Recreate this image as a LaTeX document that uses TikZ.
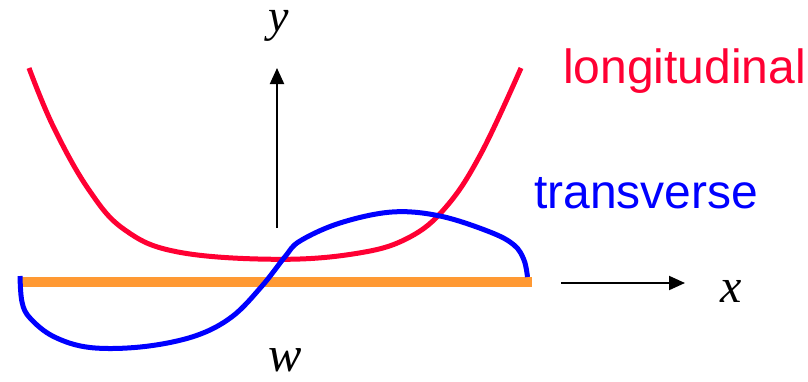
\documentclass[tikz,border=0pt]{standalone}
\usepackage{fontspec}
\setmainfont{Liberation Serif}
\newfontfamily\labsans{Liberation Sans}
\usetikzlibrary{arrows.meta}
\definecolor{lonred}{RGB}{255,0,51}
\definecolor{trblue}{RGB}{0,0,255}
\definecolor{barorange}{RGB}{255,153,51}
\tikzset{
  axisarrow/.style={line width=2pt,-{Triangle[length=16pt,width=14pt]}},
  mathlab/.style={inner sep=0pt,anchor=base,font=\fontsize{48}{56}\selectfont\itshape},
  curvelab/.style={inner sep=0pt,anchor=base west,font=\labsans\fontsize{48}{58}\selectfont},
}
\begin{document}
\begin{tikzpicture}[x=1pt,y=-1pt]
\useasboundingbox (0,0) rectangle (808,381);
% orange beam
\draw[barorange,line width=10pt] (18,281.5) -- (532,281.5);
% longitudinal (red) curve
\draw[lonred,line width=5pt] plot[smooth,tension=0.65] coordinates {
 (29,68) (53.5,127) (89,190) (125,230) (178,252) (276,259.3)
 (356,253.5) (408,238) (446,207) (481,153.5) (521,68)};
% transverse (blue) curve
\draw[trblue,line width=5pt] plot[smooth,tension=0.6] coordinates {
 (20,276) (22,302) (30,318) (53.5,336.5) (90,347.5) (143,346.7)
 (195,336) (232,316.7) (262,286) (285,256.7) (300,241) (340,223)
 (392,212) (440,216) (490,232) (514,245) (524,260) (527.5,277)};
% axes
\coordinate (ytail) at (277,228);
\coordinate (ytip) at (277,68);
\coordinate (xtail) at (561,283);
\coordinate (xtip) at (685,283);
\draw[axisarrow] (ytail) -- (ytip);
\draw[axisarrow] (xtail) -- (xtip);
% labels
\node[mathlab,font=\fontsize{46}{54}\selectfont\itshape] (ylab) at (279,31) {y};
\node[mathlab] (xlab) at (731,302) {x};
\node[mathlab,font=\fontsize{50}{58}\selectfont\itshape] (wlab) at (285,371) {w};
\node[curvelab,text=lonred] (lonlab) at (563,83) {longitudinal};
\node[curvelab,text=trblue] (trlab) at (534,208) {transverse};
\end{tikzpicture}
\end{document}
